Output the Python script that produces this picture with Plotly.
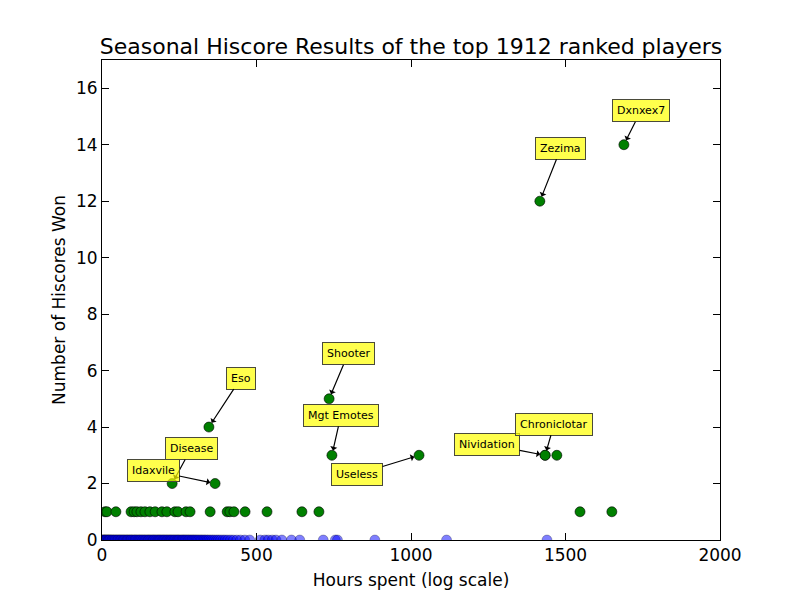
import plotly.graph_objects as go

# Players with more than one seasonal hiscore win (hours, wins)
top_names = ["Dxnxex7", "Zezima", "Eso", "Shooter", "Mgt Emotes", "Useless",
             "Nividation", "Chroniclotar", "", "Disease", "Idaxvile"]
top_hours = [1689, 1417, 346, 735, 744, 1026, 1434, 1434, 1472, 227, 366]
top_wins = [14, 12, 4, 5, 3, 3, 3, 3, 3, 2, 2]

# Players with exactly one win
one_win_hours = [10, 16, 45, 94, 104, 113, 126, 139, 155, 172, 194, 210, 236,
                 246, 272, 285, 350, 405, 414, 427, 463, 534, 647, 702, 1547, 1650]

# Players with no wins
zero_win_hours = [1, 3, 4, 7, 9, 12, 13, 15, 18, 21, 22, 25, 27, 31, 33, 36, 39,
                  42, 44, 48, 51, 53, 57, 60, 62, 66, 69, 71, 74, 78, 81, 83, 86,
                  90, 93, 95, 99, 102, 106, 108, 111, 115, 118, 121, 124, 127,
                  131, 133, 137, 140, 143, 147, 150, 152, 156, 159, 163, 166,
                  168, 172, 175, 179, 182, 185, 188, 191, 195, 198, 201, 204,
                  208, 211, 214, 218, 221, 224, 227, 231, 234, 237, 241, 244,
                  247, 250, 254, 258, 261, 264, 268, 271, 275, 279, 282, 286,
                  290, 293, 297, 301, 305, 309, 313, 318, 322, 327, 331, 336,
                  341, 346, 352, 358, 364, 371, 377, 384, 392, 399, 407, 416,
                  425, 436, 448, 462, 478, 512, 527, 538, 551, 563, 582, 613,
                  640, 716, 755, 762, 883, 1115, 1440]

# Label box offsets (pixels) from each labelled point
label_dx = [17, 21, 32, 19, 9, -62, -58, 9, 0, 19, -62]
label_dy = [-34, -53, -49, -45, -40, 19, -11, -31, 0, -35, -13]

font = "DejaVu Sans"

fig = go.Figure()

fig.add_trace(go.Scatter(
    x=zero_win_hours,
    y=[0] * len(zero_win_hours),
    mode="markers",
    marker=dict(size=10, color="rgba(0,0,255,0.5)",
                line=dict(color="rgba(0,0,0,0.5)", width=0.5)),
    cliponaxis=True,
))

fig.add_trace(go.Scatter(
    x=one_win_hours + top_hours,
    y=[1] * len(one_win_hours) + top_wins,
    mode="markers",
    marker=dict(size=10, color="#008000", line=dict(color="black", width=0.6)),
))

for name, h, w, dx, dy in zip(top_names, top_hours, top_wins, label_dx, label_dy):
    if not name:
        continue
    fig.add_annotation(
        x=h, y=w, text=name, ax=dx, ay=dy,
        showarrow=True, arrowhead=1, arrowsize=1, arrowwidth=1.2,
        arrowcolor="black", standoff=5,
        bgcolor="rgba(255,255,0,0.7)", bordercolor="#4a4a3a",
        borderwidth=1, borderpad=4,
        font=dict(family=font, size=11, color="black"),
    )

axis_style = dict(
    showgrid=False, zeroline=False, showline=True, linecolor="black",
    linewidth=1, mirror="ticks", ticks="inside", ticklen=7,
    tickcolor="black", automargin=False,
    tickfont=dict(family=font, size=17, color="black"),
)

fig.update_layout(
    width=800, height=600,
    margin=dict(l=102, r=80, t=60, b=60),
    paper_bgcolor="white", plot_bgcolor="white",
    showlegend=False,
    title=dict(text="Seasonal Hiscore Results of the top 1912 ranked players",
               x=0.5, xref="paper", yref="container", y=1 - 46 / 600,
               yanchor="middle",
               font=dict(family=font, size=22, color="black")),
    xaxis=dict(range=[0, 2000], dtick=500,
               title=dict(text="Hours spent (log scale)", standoff=9,
                          font=dict(family=font, size=17, color="black")),
               **axis_style),
    yaxis=dict(range=[0, 17], dtick=2,
               title=dict(text="Number of Hiscores Won", standoff=6,
                          font=dict(family=font, size=17, color="black")),
               **axis_style),
)

fig.write_html("out.html", config={"displayModeBar": False},
               post_script="document.body.style.margin='0';")
